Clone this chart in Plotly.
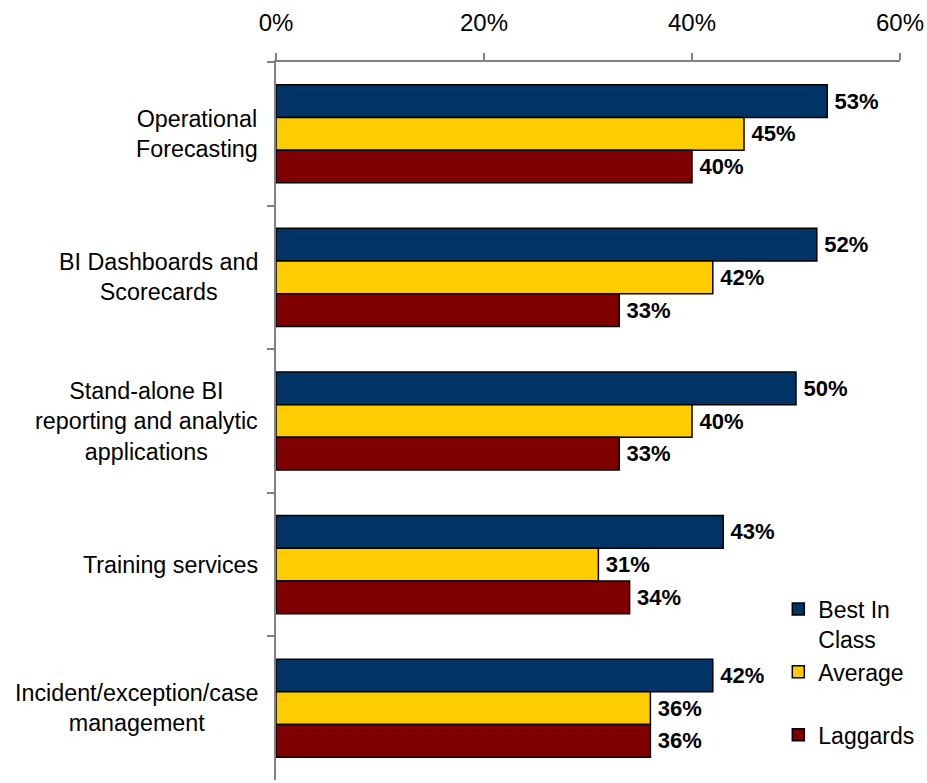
import plotly.graph_objects as go

# Categories, top to bottom
categories = [
    "Operational Forecasting",
    "BI Dashboards and Scorecards",
    "Stand-alone BI reporting and analytic applications",
    "Training services",
    "Incident/exception/case management",
]
# Wrapped display text for each category
category_labels = [
    "Operational<br>Forecasting",
    "BI Dashboards and<br>Scorecards",
    "Stand-alone BI<br>reporting and analytic<br>applications",
    "Training services",
    "Incident/exception/case<br>management",
]

best_in_class = [53, 52, 50, 43, 42]
average = [45, 42, 40, 31, 36]
laggards = [40, 33, 33, 34, 36]

series_names = ["Best In<br>Class", "Average<br> ", "Laggards"]
series_values = [best_in_class, average, laggards]
series_colors = ["#003366", "#FFCC00", "#800000"]

x_ticks = [0, 20, 40, 60]

FONT = "Liberation Sans, Arial, sans-serif"

fig = go.Figure()
for i, (name, vals, color) in enumerate(zip(series_names, series_values, series_colors)):
    fig.add_trace(go.Bar(
        y=categories,
        x=vals,
        name=name,
        orientation="h",
        marker=dict(color=color, line=dict(color="#000000", width=1.5)),
        text=[f"\u2009{v}%" for v in vals],
        textposition="outside",
        textfont=dict(family=FONT, size=22, color="#000000", weight="bold"),
        constraintext="none",
        cliponaxis=False,
        legendgroup=f"g{i}",
    ))

for cat, lab in zip(categories, category_labels):
    fig.add_annotation(
        x=0, xref="paper", y=cat, yref="y",
        text=lab, showarrow=False,
        xanchor="right", yanchor="middle", align="center",
        xshift=-16,
        font=dict(family=FONT, size=23.3, color="#000000"),
    )

fig.update_layout(
    width=927, height=783,
    margin=dict(l=276, r=27, t=62, b=3),
    paper_bgcolor="white", plot_bgcolor="white",
    barmode="group", bargap=0.317, bargroupgap=0,
    font=dict(family=FONT, color="#000000"),
    showlegend=True,
    legend=dict(
        x=0.805, y=0.268, xanchor="left", yanchor="top",
        bgcolor="rgba(0,0,0,0)",
        font=dict(family=FONT, size=23, color="#000000"),
        valign="top", tracegroupgap=0,
    ),
    xaxis=dict(
        side="top", range=[0, 60], tickvals=x_ticks,
        ticktext=[f"{t}%" for t in x_ticks],
        ticks="outside", ticklen=7, tickcolor="#808080", tickwidth=1.5,
        ticklabelstandoff=13,
        showline=True, linecolor="#808080", linewidth=1.5,
        showgrid=False, zeroline=False,
        tickfont=dict(family=FONT, size=24, color="#000000"),
    ),
    yaxis=dict(
        autorange="reversed", type="category",
        ticks="outside", tickson="boundaries", ticklen=7,
        tickcolor="#808080", tickwidth=1.5,
        showline=True, linecolor="#808080", linewidth=1.5,
        showticklabels=False, showgrid=False, zeroline=False,
    ),
)

fig.write_html("out.html")
